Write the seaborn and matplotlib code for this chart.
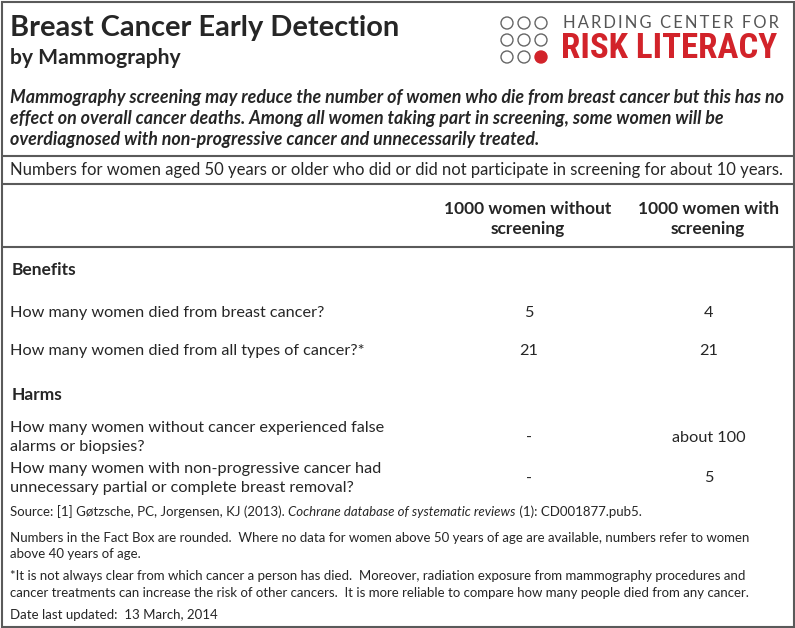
import matplotlib.pyplot as plt
import seaborn as sns
from matplotlib.patches import Circle, Rectangle

sns.set_theme(style="white")
plt.rcParams['font.family'] = ['Lato', 'DejaVu Sans']

title = "Breast Cancer Early Detection"
subtitle = "by Mammography"
logo_top = "HARDING CENTER FOR"
logo_main = "RISK LITERACY"
summary = ["Mammography screening may reduce the number of women who die from breast cancer but this has no",
           "effect on overall cancer deaths. Among all women taking part in screening, some women will be",
           "overdiagnosed with non-progressive cancer and unnecessarily treated."]
population = "Numbers for women aged 50 years or older who did or did not participate in screening for about 10 years."
col_heads = ["1000 women without\nscreening", "1000 women with\nscreening"]

benefit_rows = ["How many women died from breast cancer?",
                "How many women died from all types of cancer?*"]
benefit_without = ["5", "21"]
benefit_with = ["4", "21"]

harm_rows = ["How many women without cancer experienced false\nalarms or biopsies?",
             "How many women with non-progressive cancer had\nunnecessary partial or complete breast removal?"]
harm_without = ["-", "-"]
harm_with = ["about 100", "5"]

notes = ["Numbers in the Fact Box are rounded.  Where no data for women above 50 years of age are available, numbers refer to women\nabove 40 years of age.",
         "*It is not always clear from which cancer a person has died.  Moreover, radiation exposure from mammography procedures and\ncancer treatments can increase the risk of other cancers.  It is more reliable to compare how many people died from any cancer.",
         "Date last updated:  13 March, 2014"]

fig = plt.figure(figsize=(7.95, 6.28), dpi=100)
ax = fig.add_axes([0, 0, 1, 1])
ax.set_xlim(0, 795)
ax.set_ylim(628, 0)
ax.axis('off')


def fit(t, width):
    # scale a text so it spans the given width in pixels
    r = fig.canvas.get_renderer()
    w = t.get_window_extent(r).width
    t.set_fontsize(t.get_fontsize() * width / w)


line_c = '#5a5a5a'
ax.add_patch(Rectangle((1.5, 1.5), 792, 625, fill=False, ec=line_c, lw=1.5))
for y in [156, 184, 247]:
    ax.plot([1.5, 793.5], [y, y], color=line_c, lw=1.5)

# header
ax.text(10, 28, title, fontsize=20.9, fontweight='bold', va='center', ha='left')
ax.text(10, 58, subtitle, fontsize=15.2, fontweight='bold', va='center', ha='left')

# logo
red = '#d2232a'
for i, cy in enumerate([23, 40, 57]):
    for j, cx in enumerate([507, 524, 541]):
        filled = (i == 2 and j == 2)
        ax.add_patch(Circle((cx, cy), 6, fc=red if filled else 'white',
                            ec=red if filled else '#666666', lw=1))
top = ax.text(563, 23, "\u2009".join(logo_top), fontsize=10, color='#555555', va='center', ha='left')
fig.canvas.draw()
fit(top, 214)
main = ax.text(561, 49, logo_main, fontsize=26, color=red, fontweight='bold', va='center', ha='left',
               fontstretch='condensed',
               fontfamily=['Roboto Condensed', 'Open Sans Condensed', 'Liberation Sans Narrow', 'Lato'])
fit(main, 216)

for k, line in enumerate(summary):
    ax.text(10, 97 + 21.5 * k, line, fontsize=12.9, fontweight='bold', style='italic', va='center')

ax.text(10, 170, population, fontsize=12.0, va='center')

for x, h in zip([528, 708], col_heads):
    ax.text(x, 219, h, fontsize=12.5, fontweight='bold', ha='center', va='center', linespacing=1.35)

ax.text(12, 270, "Benefits", fontsize=12.5, fontweight='bold', va='center')
for k, (lab, a, b) in enumerate(zip(benefit_rows, benefit_without, benefit_with)):
    y = 313 + 38 * k
    ax.text(10, y, lab, fontsize=11.7, va='center')
    ax.text(529, y, a, fontsize=11.7, ha='center', va='center')
    ax.text(709, y, b, fontsize=11.7, ha='center', va='center')

ax.text(12, 395, "Harms", fontsize=12.5, fontweight='bold', va='center')
for k, (lab, a, b) in enumerate(zip(harm_rows, harm_without, harm_with)):
    y = 437.5 + 41 * k
    ax.text(10, y, lab, fontsize=11.7, va='center', linespacing=1.4)
    ax.text(529, y, a, fontsize=11.7, ha='center', va='center')
    ax.text(709, y, b, fontsize=11.7, ha='center', va='center')

# source line with italic journal name
fs = 9.5
src = ax.text(10, 512, "Source: [1] Gøtzsche, PC, Jorgensen, KJ (2013). ", fontsize=fs, va='center')
fig.canvas.draw()
bb = src.get_window_extent().transformed(ax.transData.inverted())
jn = ax.text(bb.x1, 512, "Cochrane database of systematic reviews", fontsize=fs, style='italic', va='center')
fig.canvas.draw()
bb2 = jn.get_window_extent().transformed(ax.transData.inverted())
ax.text(bb2.x1, 512, " (1): CD001877.pub5.", fontsize=fs, va='center')

ax.text(10, 546, notes[0], fontsize=fs, va='center', linespacing=1.45)
ax.text(10, 584.5, notes[1], fontsize=fs, va='center', linespacing=1.45)
ax.text(10, 615, notes[2], fontsize=fs, va='center')

fig.savefig("out.png", dpi=100)
